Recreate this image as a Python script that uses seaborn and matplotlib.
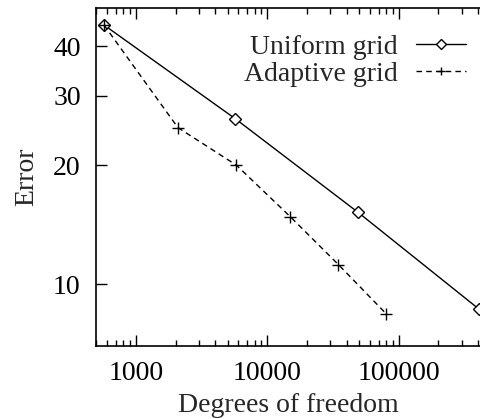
import matplotlib
matplotlib.use('Agg')
import matplotlib.pyplot as plt
import matplotlib.ticker as mticker
import seaborn as sns
import pandas as pd
import numpy as np

# data (log-log)
uniform_dof = [571, 5715, 48800, 405000]
uniform_err = [45.3, 26.2, 15.2, 8.65]

adaptive_dof = [571, 2085, 5810, 14960, 34700, 80300]
adaptive_err = [45.3, 24.9, 20.0, 14.8, 11.2, 8.4]

x_ticks = [1000, 10000, 100000]
y_ticks = [10, 20, 30, 40]

sns.set_style('ticks')
plt.rcParams['font.family'] = ['Liberation Serif', 'DejaVu Serif']

W, H = 481, 419
fig = plt.figure(figsize=(W / 100, H / 100), dpi=100)
ax = fig.add_axes([96 / W, (H - 346) / H, (481 - 96) / W, (346 - 8) / H])

uni = pd.DataFrame({'dof': uniform_dof, 'err': uniform_err})
ada = pd.DataFrame({'dof': adaptive_dof, 'err': adaptive_err})

sns.lineplot(data=uni, x='dof', y='err', ax=ax, color='black', lw=1.0,
             marker='D', markersize=6, markerfacecolor='white',
             markeredgecolor='black', markeredgewidth=1.0,
             label='Uniform grid', clip_on=False)
sns.lineplot(data=ada, x='dof', y='err', ax=ax, color='black', lw=1.0,
             linestyle=(0, (4, 3)), marker='+', markersize=8,
             markeredgecolor='black', markeredgewidth=1.0,
             label='Adaptive grid')

ax.set_xscale('log')
ax.set_yscale('log')
ax.set_xlim(497, 421000)
ax.set_ylim(6.97, 50.0)

ax.xaxis.set_major_locator(mticker.FixedLocator(x_ticks))
ax.xaxis.set_major_formatter(mticker.FixedFormatter([str(t) for t in x_ticks]))
ax.xaxis.set_minor_locator(mticker.LogLocator(base=10, subs=np.arange(2, 10)))
ax.xaxis.set_minor_formatter(mticker.NullFormatter())
ax.yaxis.set_major_locator(mticker.FixedLocator(y_ticks))
ax.yaxis.set_major_formatter(mticker.FixedFormatter([str(t) for t in y_ticks]))
ax.yaxis.set_minor_locator(mticker.NullLocator())

ax.tick_params(which='both', direction='in', top=True, right=False,
               width=1.0, colors='black', labelsize=20)
ax.tick_params(which='major', length=8)
ax.tick_params(which='minor', length=4)
ax.tick_params(axis='x', which='major', pad=11)
ax.tick_params(axis='y', which='major', pad=11)

for s in ['left', 'bottom', 'top']:
    ax.spines[s].set_linewidth(1.2)
    ax.spines[s].set_color('black')
ax.spines['right'].set_visible(False)

ax.set_xlabel('Degrees of freedom', fontsize=20, labelpad=5)
ax.set_ylabel('Error', fontsize=20, labelpad=10)

ax.legend(loc='upper right', bbox_to_anchor=(1.0, 0.966), frameon=False,
          markerfirst=False, fontsize=20, handlelength=1.8,
          handletextpad=0.65, labelspacing=0.04, borderaxespad=0.15,
          markerscale=0.8)

fig.savefig('out.png', dpi=100)
